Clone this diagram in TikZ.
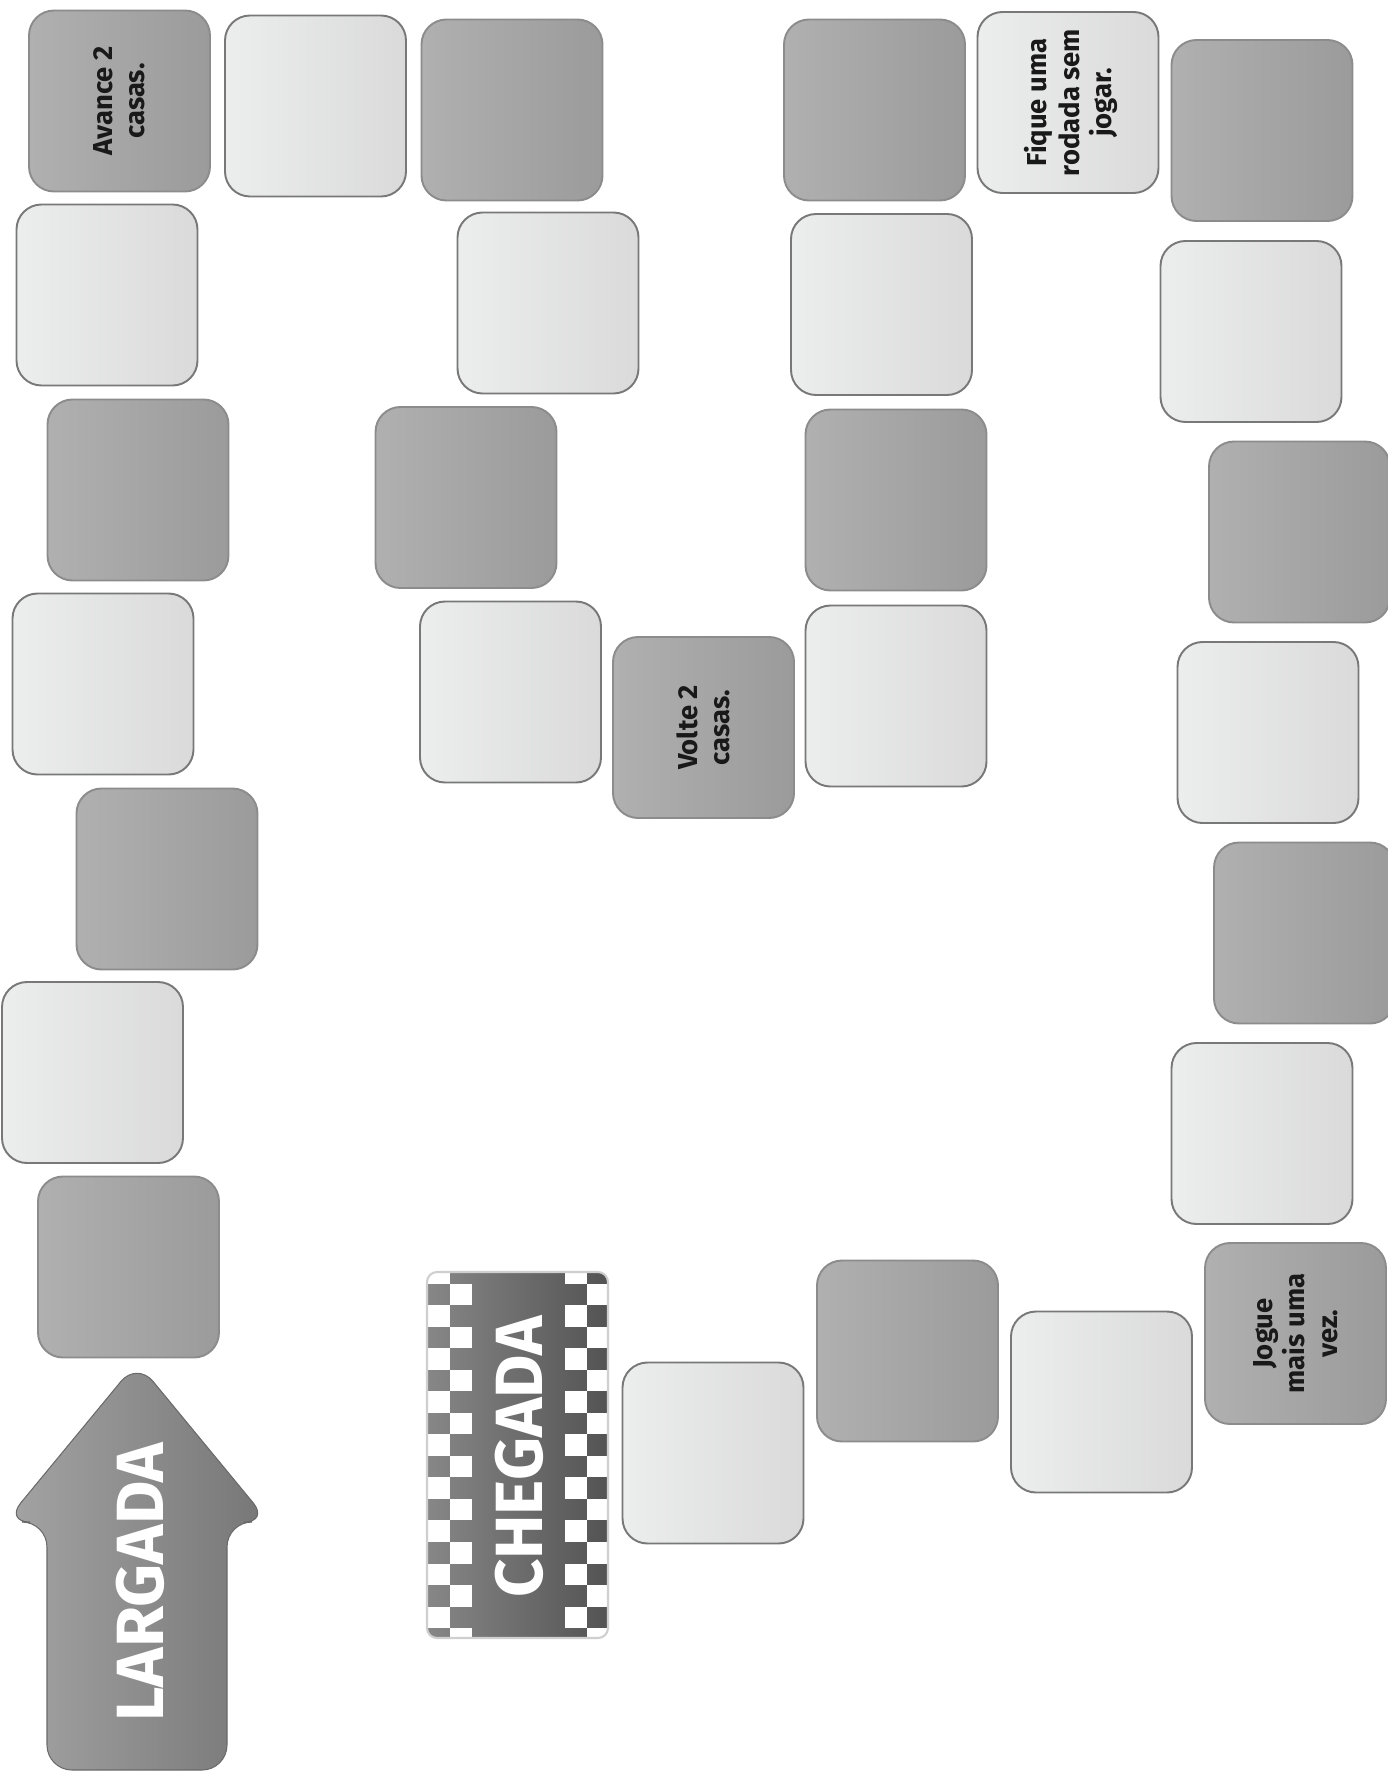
\documentclass[tikz,border=0pt]{standalone}
\usepackage{fontspec}
\setmainfont{Fira Sans}
\definecolor{darkl}{HTML}{AFB0AF}
\definecolor{darkr}{HTML}{9A9B9A}
\definecolor{darkrim}{HTML}{8B8C8B}
\definecolor{lightl}{HTML}{ECEEED}
\definecolor{lightr}{HTML}{D9DAD9}
\definecolor{lightrim}{HTML}{777877}
\definecolor{arrowl}{HTML}{A3A4A3}
\definecolor{arrowr}{HTML}{757675}
\definecolor{flagl}{HTML}{868786}
\definecolor{flagr}{HTML}{525352}
\definecolor{flagrim}{HTML}{CFCFCF}
\begin{document}
\begin{tikzpicture}[x=0.1mm, y=-0.1mm,
  tile/.style={rectangle, rounded corners=2.5mm, minimum size=18.1mm, inner sep=0pt, line width=0.55pt},
  dtile/.style={tile, draw=darkrim, left color=darkl, right color=darkr},
  ltile/.style={tile, draw=lightrim, left color=lightl, right color=lightr},
  tiletext/.style={rotate=90, align=center, inner sep=0pt, text=black!90,
    font=\bfseries\fontsize{7.8}{9.2}\selectfont},
  bigtext/.style={rotate=90, inner sep=0pt, text=white,
    font=\bfseries\fontsize{19}{20}\selectfont}]
  \useasboundingbox (0,0) rectangle (1388,1771);
  % start arrow
  \draw[draw=arrowr!90!black, line width=0.3pt, left color=arrowl, right color=arrowr, rounded corners=2.5mm]
    (47,1770) -- (47,1522) -- (5,1522) -- (137,1362) -- (269,1522) -- (227,1522) -- (227,1770) -- cycle;
  \node[bigtext] (largada) at (140,1582) {LARGADA};
  % squares along the track, from start to finish
  \node[dtile] (c1) at (128.5,1267) {};
  \node[ltile] (c2) at (92.5,1072.5) {};
  \node[dtile] (c3) at (167,879) {};
  \node[ltile] (c4) at (103,684) {};
  \node[dtile] (c5) at (138,490) {};
  \node[ltile] (c6) at (107,295) {};
  \node[dtile] (c7) at (119.5,101) {};
  \node[tiletext] (c7t) at (c7) {Avance 2\\casas.};
  \node[ltile] (c8) at (315.5,106) {};
  \node[dtile] (c9) at (512,110) {};
  \node[ltile] (c10) at (548,303) {};
  \node[dtile] (c11) at (466,497.5) {};
  \node[ltile] (c12) at (510.5,692) {};
  \node[dtile] (c13) at (703.5,727.5) {};
  \node[tiletext] (c13t) at (c13) {Volte 2\\casas.};
  \node[ltile] (c14) at (896,696) {};
  \node[dtile] (c15) at (896,500) {};
  \node[ltile] (c16) at (881.5,304.5) {};
  \node[dtile] (c17) at (874.5,110) {};
  \node[ltile] (c18) at (1068,102.5) {};
  \node[tiletext] (c18t) at (1071,102.5) {Fique uma\\rodada sem\\jogar.};
  \node[dtile] (c19) at (1262,130.5) {};
  \node[ltile] (c20) at (1251,331.5) {};
  \node[dtile] (c21) at (1299.5,532) {};
  \node[ltile] (c22) at (1268,732.5) {};
  \node[dtile] (c23) at (1304.5,933) {};
  \node[ltile] (c24) at (1262,1133.5) {};
  \node[dtile] (c25) at (1295.5,1333.5) {};
  \node[tiletext] (c25t) at (c25) {Jogue\\mais uma\\vez.};
  \node[ltile] (c26) at (1101.5,1402) {};
  \node[dtile] (c27) at (907.5,1351) {};
  \node[ltile] (c28) at (713,1453) {};
  % finish flag
  \begin{scope}
    \clip[rounded corners=1mm] (427,1272) rectangle (608,1638);
    \fill[left color=flagl, right color=flagr] (427,1272) rectangle (608,1638);
    \foreach \k in {0,2,...,16} {
      \fill[white] (427,{1262.2+21.52*\k}) rectangle ++(23,21.52);
      \fill[white] (565,{1262.2+21.52*\k}) rectangle ++(22,21.52);
    }
    \foreach \k in {1,3,...,17} {
      \fill[white] (450,{1262.2+21.52*\k}) rectangle ++(22,21.52);
      \fill[white] (587,{1262.2+21.52*\k}) rectangle ++(21,21.52);
    }
  \end{scope}
  \draw[flagrim, line width=0.6pt, rounded corners=1mm] (427,1272) rectangle (608,1638);
  \node[bigtext] (chegada) at (519,1457) {CHEGADA};
\end{tikzpicture}
\end{document}
